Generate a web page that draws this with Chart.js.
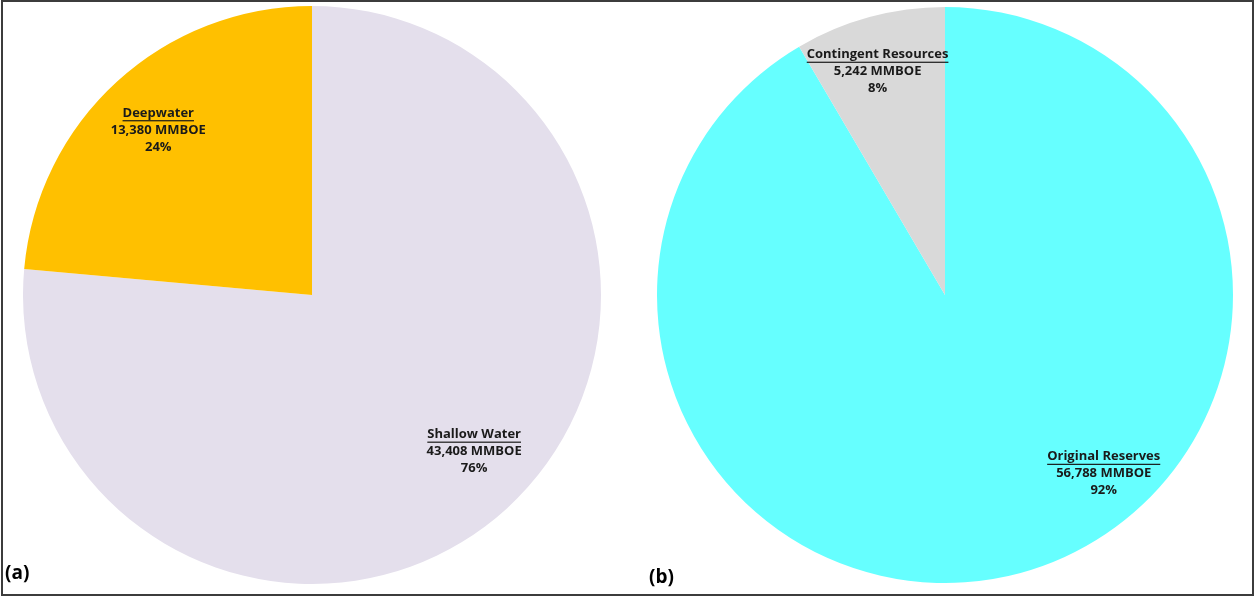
<!DOCTYPE html>
<html>
<head>
<meta charset="utf-8">
<script src="https://cdn.jsdelivr.net/npm/chart.js@4.4.1/dist/chart.umd.min.js"></script>
<style>
    body { margin: 0; background: #fff; width: 1255px; height: 597px; overflow: hidden; position: relative; font-family: "Open Sans", sans-serif; }
    .frame { position: absolute; left: 1px; top: 0; width: 1253px; height: 596px; border: 2px solid #3c3c3c; box-sizing: border-box; }
    .box { position: absolute; }
    .tag { position: absolute; font-weight: 700; font-size: 19px; color: #000; }
</style>
</head>
<body>
<div class="frame"></div>
<div class="box" style="left:23px; top:6px; width:578px; height:578px;"><canvas id="chartA"></canvas></div>
<div class="box" style="left:657px; top:7px; width:576px; height:576px;"><canvas id="chartB"></canvas></div>
<div class="tag" style="left:5px; top:559px;">(a)</div>
<div class="tag" style="left:649px; top:563px;">(b)</div>

<script>
// Chart (a): water depth split
const depthCategories = ['Shallow Water', 'Deepwater'];
const depthValues = [43408, 13380];
const depthPercents = ['76%', '24%'];

// Chart (b): reserves vs contingent
const resourceCategories = ['Original Reserves', 'Contingent Resources'];
const resourceValues = [56788, 5242];
const resourcePercents = ['92%', '8%'];

const depthColors = ['#e4dfec', '#ffc000'];
const resourceColors = ['#66ffff', '#d9d9d9'];

// label placement: angle (deg, clockwise from top) and fraction of radius
const depthLabelPos = [{ angle: 134, r: 0.78 }, { angle: -43, r: 0.78 }];
const resourceLabelPos = [{ angle: 138.4, r: 0.83 }, { angle: -16.8, r: 0.81 }];

const fmt = n => n.toLocaleString('en-US');

// draws the bold three-line labels (name underlined, value, percent)
const pieLabels = {
    id: 'pieLabels',
    afterDatasetsDraw(chart, args, opts) {
        const ctx = chart.ctx;
        const meta = chart.getDatasetMeta(0);
        const data = chart.data.datasets[0].data;
        meta.data.forEach((arc, i) => {
            const pos = opts.positions[i];
            const a = pos.angle * Math.PI / 180;
            const cx = arc.x + Math.sin(a) * arc.outerRadius * pos.r;
            const cy = arc.y - Math.cos(a) * arc.outerRadius * pos.r;
            const lines = [chart.data.labels[i], fmt(data[i]) + ' MMBOE', opts.percents[i]];
            ctx.save();
            ctx.font = 'bold 13px "Open Sans", sans-serif';
            ctx.fillStyle = '#1a1a1a';
            ctx.textAlign = 'center';
            ctx.textBaseline = 'middle';
            lines.forEach((t, k) => {
                const y = cy + (k - 1) * 17;
                ctx.fillText(t, cx, y);
                if (k === 0) {
                    const w = ctx.measureText(t).width;
                    ctx.fillRect(cx - w / 2, y + 7, w, 1.2);
                }
            });
            ctx.restore();
        });
    }
};

function makePie(id, labels, values, colors, percents, positions) {
    return new Chart(document.getElementById(id).getContext('2d'), {
        type: 'pie',
        data: {
            labels: labels,
            datasets: [{
                data: values,
                backgroundColor: colors,
                borderWidth: 0
            }]
        },
        options: {
            responsive: true,
            maintainAspectRatio: false,
            animation: false,
            layout: { padding: 0 },
            plugins: {
                legend: { display: false },
                tooltip: { enabled: false },
                pieLabels: { percents: percents, positions: positions }
            }
        },
        plugins: [pieLabels]
    });
}

makePie('chartA', depthCategories, depthValues, depthColors, depthPercents, depthLabelPos);
makePie('chartB', resourceCategories, resourceValues, resourceColors, resourcePercents, resourceLabelPos);
</script>
</body>
</html>
